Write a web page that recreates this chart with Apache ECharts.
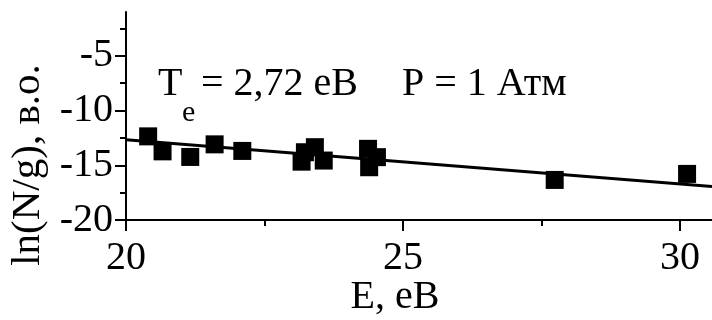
<!DOCTYPE html>
<html><head><meta charset="utf-8">
<script src="https://cdn.jsdelivr.net/npm/echarts@6/dist/echarts.min.js"></script>
<style>html,body{margin:0;padding:0;background:#fff}#c{width:712px;height:320px}</style>
</head><body><div id="c"></div>
<script>
const energy = [20.40, 20.66, 21.16, 21.60, 22.10, 23.17, 23.23, 23.41, 23.57, 24.37, 24.39, 24.53, 27.74, 30.13];
const lnNg   = [-12.36, -13.73, -14.24, -13.09, -13.69, -14.67, -13.81, -13.35, -14.57, -13.50, -15.18, -14.26, -16.34, -15.79];
const fitE   = [20, 30.58];
const fitLn  = [-12.68, -16.95];
const xMajorTicks = [20, 25, 30];
const xMinorTicks = [22.5, 27.5];
const yMajorTicks = [-20, -15, -10, -5];
const yMinorTicks = [-17.5, -12.5, -7.5, -2.5];
const xRange = [20, 30.58];
const yRange = [-20, -1];
const xTitle = 'E, eB';
const yTitle = 'ln(N/g), в.о.';
const annoTe = ['T', 'e', '= 2,72 eB'];
const annoP = 'P = 1 Атм';

const FONT = 'Liberation Serif';
const chart = echarts.init(document.getElementById('c'), null, {renderer: 'canvas'});

const scatterData = energy.map((e, i) => [e, lnNg[i]]);
const fitData = fitE.map((e, i) => [e, fitLn[i]]);

function mainAxis(range, major, isX) {
  return {
    type: 'value', min: range[0], max: range[1],
    position: isX ? 'bottom' : 'left',
    axisLine: {show: true, onZero: false, lineStyle: {color: '#000', width: 2}},
    axisTick: {show: true, inside: false, length: 11, customValues: major, lineStyle: {color: '#000', width: 2}},
    axisLabel: {show: true, customValues: major, margin: isX ? 18 : 13, color: '#000',
      fontFamily: FONT, fontSize: 40},
    splitLine: {show: false}
  };
}
function minorAxis(range, minor, isX) {
  return {
    type: 'value', min: range[0], max: range[1],
    position: isX ? 'bottom' : 'left', offset: 0,
    axisLine: {show: false, onZero: false},
    axisTick: {show: true, inside: false, length: 6, customValues: minor, lineStyle: {color: '#000', width: 2}},
    axisLabel: {show: false},
    splitLine: {show: false}
  };
}

function txt(x, y, text, size, align, rot) {
  const g = {type: 'text', x: x, y: y,
    style: {text: text, fontFamily: FONT, fontSize: size, fill: '#000', textAlign: align, textVerticalAlign: 'middle'}};
  if (rot) g.rotation = rot;
  return g;
}

chart.setOption({
  animation: false,
  backgroundColor: '#fff',
  grid: {left: 126, right: 0, top: 12, bottom: 100, containLabel: false},
  xAxis: [mainAxis(xRange, xMajorTicks, true), minorAxis(xRange, xMinorTicks, true)],
  yAxis: [mainAxis(yRange, yMajorTicks, false), minorAxis(yRange, yMinorTicks, false)],
  series: [
    {type: 'line', data: fitData, xAxisIndex: 0, yAxisIndex: 0, showSymbol: false, symbol: 'none',
     lineStyle: {color: '#000', width: 3}, z: 2},
    {type: 'scatter', data: scatterData, xAxisIndex: 0, yAxisIndex: 0, symbol: 'rect', symbolSize: 18,
     itemStyle: {color: '#000', opacity: 1}, z: 3}
  ],
  graphic: [
    txt(158, 84, annoTe[0], 40, 'left'),
    txt(182, 113, annoTe[1], 30, 'left'),
    txt(201, 84, annoTe[2], 40, 'left'),
    txt(402, 84, annoP, 40, 'left'),
    txt(395, 297, xTitle, 40, 'center'),
    txt(28, 165, yTitle, 41, 'center', Math.PI / 2)
  ]
});
</script></body></html>
